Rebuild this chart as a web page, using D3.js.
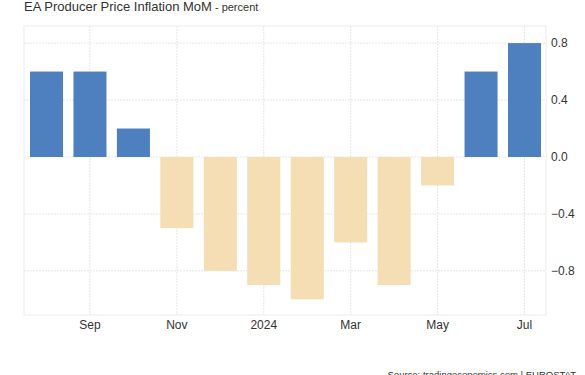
<!DOCTYPE html>
<html>
<head>
<meta charset="utf-8">
<script src="https://cdn.jsdelivr.net/npm/d3@7"></script>
<style>
  body { margin: 0; background: #fff; }
  svg { font-family: "Liberation Sans", Arial, sans-serif; }
  .grid line { stroke: #e6e6e6; stroke-dasharray: 2,1; }
  .axis text { fill: #333; font-size: 12px; }
</style>
</head>
<body>
<div id="chart"></div>
<script>
let width = 585,
    height = 375,
    margin = ({ top: 26, right: 39, bottom: 60, left: 24 });

// Aug 2023 .. Jul 2024, month-on-month percent
const months = ["2023-08", "2023-09", "2023-10", "2023-11", "2023-12", "2024-01",
                "2024-02", "2024-03", "2024-04", "2024-05", "2024-06", "2024-07"];
const values = [0.6, 0.6, 0.2, -0.5, -0.8, -0.9, -1.0, -0.6, -0.9, -0.2, 0.6, 0.8];
const tickMonths = ["2023-09", "2023-11", "2024-01", "2024-03", "2024-05", "2024-07"];
const tickLabels = ["Sep", "Nov", "2024", "Mar", "May", "Jul"];
const yTicks = [0.8, 0.4, 0.0, -0.4, -0.8];

const svg = d3.select("#chart")
    .append("svg")
    .attr("width", width)
    .attr("height", height);

let x = d3.scaleBand()
    .domain(months)
    .range([margin.left, width - 38])
    .paddingInner(0.24)
    .paddingOuter(0.138);

let y = d3.scaleLinear()
    .domain([-1.11, 0.92])
    .range([height - margin.bottom, margin.top]);

// frame
svg.append("rect")
    .attr("x", margin.left)
    .attr("y", margin.top)
    .attr("width", width - margin.left - margin.right)
    .attr("height", height - margin.top - margin.bottom)
    .attr("fill", "none")
    .attr("stroke", "#ececec");

// horizontal grid
svg.append("g")
    .attr("class", "grid")
    .selectAll("line")
    .data(yTicks)
    .join("line")
    .attr("x1", margin.left)
    .attr("x2", width - margin.right)
    .attr("y1", d => y(d))
    .attr("y2", d => y(d));

// vertical grid
svg.append("g")
    .attr("class", "grid")
    .selectAll("line")
    .data(tickMonths)
    .join("line")
    .attr("x1", d => x(d) + x.bandwidth() / 2)
    .attr("x2", d => x(d) + x.bandwidth() / 2)
    .attr("y1", margin.top)
    .attr("y2", height - margin.bottom);

// bars
svg.append("g")
    .selectAll("rect")
    .data(months)
    .join("rect")
    .attr("x", d => x(d))
    .attr("width", x.bandwidth())
    .attr("y", (d, i) => y(Math.max(0, values[i])))
    .attr("height", (d, i) => Math.abs(y(values[i]) - y(0)))
    .attr("fill", (d, i) => values[i] >= 0 ? "#4e80bf" : "#f5deb3");

// x axis
const xAxis = d3.axisBottom(x)
    .tickValues(tickMonths)
    .tickFormat((d, i) => tickLabels[i])
    .tickSize(0)
    .tickPadding(5);

svg.append("g")
    .attr("class", "axis")
    .attr("transform", `translate(0,${height - margin.bottom})`)
    .call(xAxis)
    .call(g => g.select(".domain").remove());

// y axis on the right
const yAxis = d3.axisRight(y)
    .tickValues(yTicks)
    .tickFormat(d3.format(".1f"))
    .tickSize(0)
    .tickPadding(5);

svg.append("g")
    .attr("class", "axis")
    .attr("transform", `translate(${width - margin.right},0)`)
    .call(yAxis)
    .call(g => g.select(".domain").remove());

// title
const title = svg.append("text")
    .attr("x", 24)
    .attr("y", 11)
    .attr("fill", "#333")
    .attr("font-size", "13px")
    .text("EA Producer Price Inflation MoM");
title.append("tspan")
    .attr("font-size", "11px")
    .text(" - percent");

// source
svg.append("text")
    .attr("x", 576)
    .attr("y", 378)
    .attr("text-anchor", "end")
    .attr("fill", "#333")
    .attr("font-size", "9.5px")
    .text("Source: tradingeconomics.com | EUROSTAT");
</script>
</body>
</html>
